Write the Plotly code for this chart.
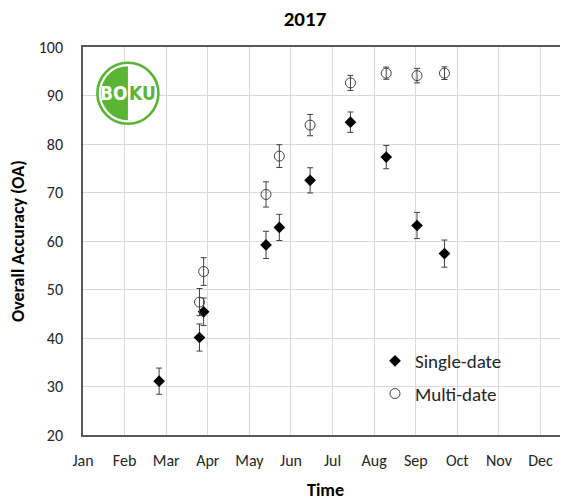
import plotly.graph_objects as go

# ---- data (x = months since 1 Jan 2017) ----
month_labels = ["Jan", "Feb", "Mar", "Apr", "May", "Jun", "Jul", "Aug", "Sep", "Oct", "Nov", "Dec"]
month_ticks = list(range(12))

single_x = [1.83, 2.80, 2.90, 4.40, 4.72, 5.46, 6.43, 7.29, 8.03, 8.69]
single_oa = [31.1, 40.1, 45.4, 59.2, 62.8, 72.5, 84.5, 77.3, 63.2, 57.4]
single_err = [2.7, 2.8, 2.85, 2.8, 2.7, 2.6, 2.1, 2.4, 2.7, 2.8]

multi_x = [2.80, 2.90, 4.40, 4.72, 5.46, 6.43, 7.29, 8.03, 8.69]
multi_oa = [47.4, 53.7, 69.6, 77.5, 83.9, 92.6, 94.6, 94.1, 94.6]
multi_err = [2.8, 2.85, 2.6, 2.35, 2.2, 1.55, 1.25, 1.5, 1.3]

FONT = "Carlito, Lato, sans-serif"
TXT = "#262626"
GREEN = "#5bb534"

fig = go.Figure()
fig.add_trace(go.Scatter(
    x=single_x, y=single_oa, mode="markers", name="Single-date",
    legendgroup="s",
    marker=dict(symbol="diamond", size=9, color="black"),
    error_y=dict(type="data", array=single_err, color="#404040", thickness=1, width=3),
))
fig.add_trace(go.Scatter(
    x=multi_x, y=multi_oa, mode="markers", name="Multi-date",
    legendgroup="m",
    marker=dict(symbol="circle-open", size=10, color="#404040", line=dict(width=1)),
    error_y=dict(type="data", array=multi_err, color="#404040", thickness=1, width=3),
))

# logo position (data coords)
lx, ly = 1.08, 90.45
k = 0.5523 * 27
half = (f"M 0,-27 C {-k},-27 -27,{-k} -27,0 C -27,{k} {-k},27 0,27 Z")
shapes = [
    # white legend background (covers gridlines)
    dict(type="rect", xref="paper", yref="paper", x0=0.5505, x1=0.940, y0=0.0644, y1=0.237,
         fillcolor="white", line=dict(width=0), layer="between"),
    # logo: white disk with green ring
    dict(type="circle", xref="x", yref="y", xsizemode="pixel", ysizemode="pixel",
         xanchor=lx, yanchor=ly, x0=-30.5, x1=30.5, y0=-30.5, y1=30.5,
         fillcolor="white", line=dict(color=GREEN, width=2.6), layer="between"),
    dict(type="path", xref="x", yref="y", xsizemode="pixel", ysizemode="pixel",
         xanchor=lx, yanchor=ly, path=half, fillcolor=GREEN, line=dict(width=0), layer="between"),
]

LOGO_FONT = "DejaVu Sans Condensed, Liberation Sans Narrow, sans-serif"
annotations = [
    dict(text="<b>BO</b>", x=lx, y=ly, xref="x", yref="y", xanchor="right", yanchor="middle",
         showarrow=False, xshift=1, borderpad=0,
         font=dict(family=LOGO_FONT, size=19, color="white")),
    dict(text="<b>KU</b>", x=lx, y=ly, xref="x", yref="y", xanchor="left", yanchor="middle",
         showarrow=False, xshift=0, borderpad=0,
         font=dict(family=LOGO_FONT, size=19, color=GREEN)),
    dict(text="<b>Overall Accuracy (OA)</b>", xref="paper", yref="paper", x=-0.134, y=0.5,
         xanchor="center", yanchor="middle", textangle=-90, showarrow=False,
         font=dict(family=FONT, size=18, color="black")),
    dict(text="<b>Time</b>", xref="paper", yref="paper", x=0.499, y=-0.1418,
         xanchor="center", yanchor="middle", showarrow=False,
         font=dict(family=FONT, size=18, color="black")),
]

# the page adds an 8 px body margin, so the figure is offset by (8, 8)
fig.update_layout(
    width=568, height=503,
    margin=dict(l=75, r=8, t=39, b=76),
    paper_bgcolor="white", plot_bgcolor="white",
    title=dict(text="<b>2017</b>", x=297 / 568, xref="container", xanchor="center",
               y=1 - 3 / 503, yref="container", yanchor="top", pad=dict(t=0, b=0, l=0, r=0),
               font=dict(family=FONT, size=21, color="black")),
    shapes=shapes,
    annotations=annotations,
    showlegend=True,
    legend=dict(x=(375 - 83) / 485, y=(435 - 342) / 388, xanchor="left", yanchor="top",
                bgcolor="rgba(0,0,0,0)", traceorder="grouped", tracegroupgap=5,
                font=dict(family=FONT, size=19, color=TXT)),
    xaxis=dict(range=[0, 11.66], tickvals=month_ticks, ticktext=month_labels,
               showgrid=True, gridcolor="#d9d9d9", gridwidth=1, zeroline=False,
               showline=True, linecolor="#595959", linewidth=1.5, mirror=True,
               ticks="", ticklabelstandoff=10,
               tickfont=dict(family=FONT, size=16, color=TXT)),
    yaxis=dict(range=[20, 100], dtick=10, tick0=20,
               showgrid=True, gridcolor="#d9d9d9", gridwidth=1, zeroline=False,
               showline=True, linecolor="#595959", linewidth=1.5, mirror=False,
               ticks="", ticklabelstandoff=15,
               tickfont=dict(family=FONT, size=16, color=TXT)),
)

fig.write_html("out.html")
